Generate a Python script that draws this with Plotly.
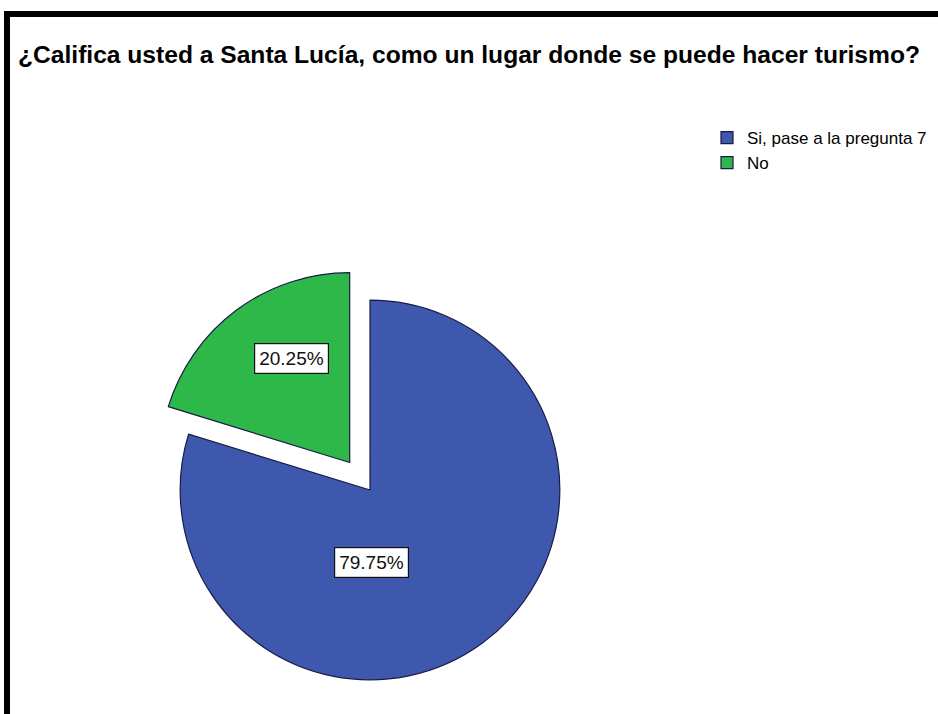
import plotly.graph_objects as go

# Data
categories = ["Si, pase a la pregunta 7", "No"]
percentages = [79.75, 20.25]
slice_colors = ["#3D58AC", "#2EB84A"]
title_text = "¿Califica usted a Santa Lucía, como un lugar donde se puede hacer turismo?"

W, H = 938, 714
FONT = "Liberation Sans, Arial, sans-serif"

fig = go.Figure()
fig.add_trace(go.Pie(
    labels=categories,
    values=percentages,
    sort=False,
    direction="clockwise",
    rotation=0,
    pull=[0, 0.18],
    marker=dict(colors=slice_colors, line=dict(color="#1a1a48", width=1.2)),
    textinfo="none",
    hoverinfo="label+percent",
    domain=dict(x=[146 / W, 594 / W], y=[1 - 714 / H, 1 - 266 / H]),
    showlegend=True,
))

# percentage labels in boxes
label_pos = [(371, 562), (291, 358)]
for (px, py), v in zip(label_pos, percentages):
    fig.add_annotation(
        x=px / W, y=1 - py / H, xref="paper", yref="paper",
        xanchor="center", yanchor="middle",
        text=f"{v:.2f}%", showarrow=False,
        font=dict(family=FONT, size=19, color="#111111"),
        bgcolor="white", bordercolor="#111111", borderwidth=1.2, borderpad=4,
    )

# frame lines (top and left)
fig.add_shape(type="line", xref="paper", yref="paper",
              x0=4 / W, x1=1, y0=1 - 14 / H, y1=1 - 14 / H,
              line=dict(color="black", width=6))
fig.add_shape(type="line", xref="paper", yref="paper",
              x0=7 / W, x1=7 / W, y0=1 - 11 / H, y1=0,
              line=dict(color="black", width=6))

fig.update_layout(
    width=W, height=H,
    margin=dict(l=0, r=0, t=0, b=0),
    paper_bgcolor="white",
    plot_bgcolor="white",
    title=dict(text="<b>" + title_text + "</b>", x=18 / W, xanchor="left", y=1 - 54 / H, yanchor="middle",
               font=dict(family=FONT, size=24.6, color="black")),
    legend=dict(x=707 / W, xanchor="left", y=1 - 120 / H, yanchor="top",
                font=dict(family=FONT, size=17, color="black"),
                bgcolor="rgba(0,0,0,0)", traceorder="normal", itemclick=False),
)

fig.write_html("out.html", config={"displayModeBar": False},
               post_script="document.body.style.margin='0px';")
